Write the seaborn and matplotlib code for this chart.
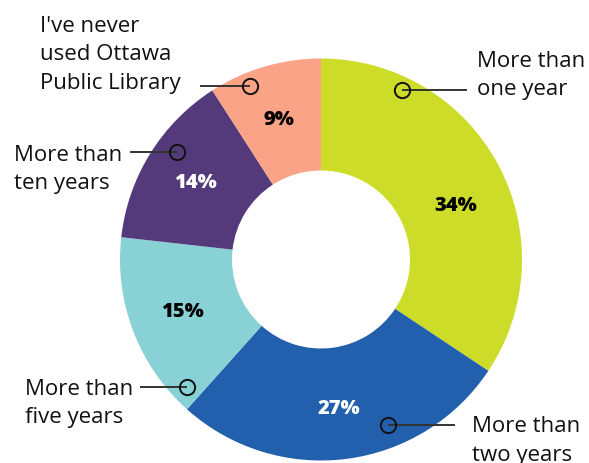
import matplotlib
matplotlib.use("Agg")
import matplotlib.pyplot as plt
import seaborn as sns

# Share of respondents by time since they last used the library
categories = [
    "More than\none year",
    "More than\ntwo years",
    "More than\nfive years",
    "More than\nten years",
    "I've never\nused Ottawa\nPublic Library",
]
shares = [34, 27, 15, 14, 9]
colors = ["#cddc29", "#225fac", "#88d1d5", "#543a7b", "#fba386"]
pct_text_colors = ["black", "white", "black", "white", "black"]

W, H = 589, 463

sns.set_theme(style="white")
plt.rcParams["font.family"] = ["Open Sans", "DejaVu Sans"]

fig = plt.figure(figsize=(W / 100, H / 100), dpi=100)
ax = fig.add_axes([0, 0, 1, 1])

cx, cy = 321, H - 259.5
R = 201
hole = 89

ax.pie(
    shares,
    colors=colors,
    startangle=90,
    counterclock=False,
    radius=R,
    center=(cx, cy),
    wedgeprops=dict(width=R - hole, edgecolor="none", linewidth=0),
)

ax.set_xlim(0, W)
ax.set_ylim(0, H)
ax.set_aspect("equal")
ax.axis("off")

# percentage labels inside each segment (pixel positions, y from top)
pct_pos = [(456, 206), (339, 409), (183, 312), (196, 183), (279, 120)]
for v, (px, py), tc in zip(shares, pct_pos, pct_text_colors):
    ax.text(px, H - py, f"{v}%", ha="center", va="center",
            fontsize=14.5, fontweight="heavy", color=tc)

# callouts: (text left x, first baseline y, line start x, marker x, marker y)
callouts = [
    (477, 67, 467, 402, 90),
    (472, 432, 455, 388, 425),
    (25, 395, 140, 187, 387),
    (14, 161, 130, 177, 152),
    (40, 32, 200, 250, 86),
]
line_gap = 28.5
for label, (tx, ty, lx, mx, my) in zip(categories, callouts):
    for i, line in enumerate(label.split("\n")):
        ax.text(tx, H - (ty + i * line_gap), line, ha="left", va="baseline",
                fontsize=16, color="#111111")
    ax.plot([lx, mx], [H - my, H - my], color="#333333", lw=1.4,
            solid_capstyle="butt", zorder=3)
    ax.plot([mx], [H - my], marker="o", ms=11, mfc="none", mec="#111111",
            mew=1.4, zorder=4)

fig.savefig("out.png", dpi=100)
